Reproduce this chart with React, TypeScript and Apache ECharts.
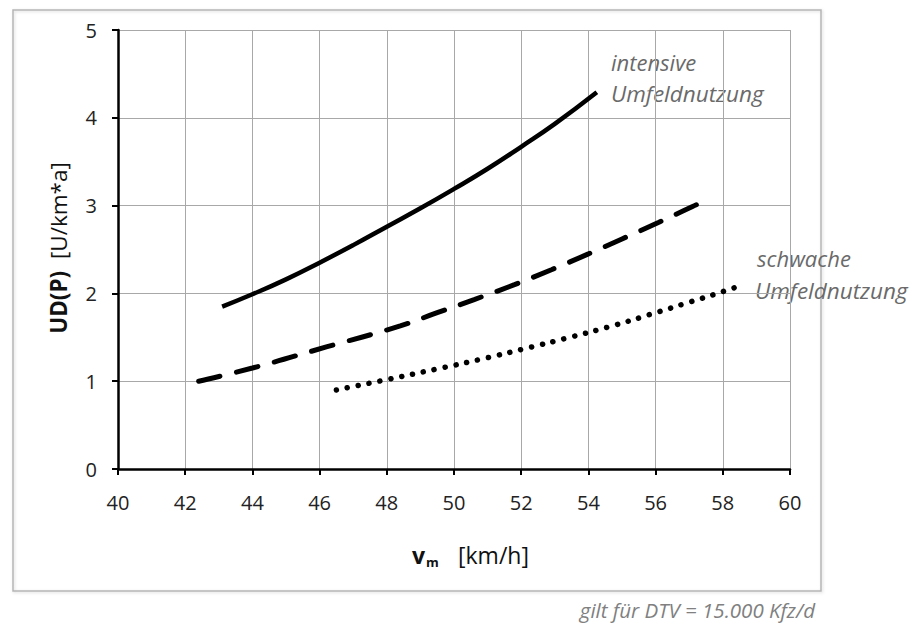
import React, { useEffect, useRef } from "react";
import * as echarts from "echarts";

const xTicks = [40, 42, 44, 46, 48, 50, 52, 54, 56, 58, 60];
const yTicks = [0, 1, 2, 3, 4, 5];

const intensiveX = [43.1, 44, 45, 46, 47, 48, 49, 50, 51, 52, 53, 54.25];
const intensiveY = [1.85, 1.99, 2.16, 2.35, 2.55, 2.76, 2.97, 3.19, 3.42, 3.67, 3.93, 4.29];

const mittelX = [42.4, 44, 46.2, 48.4, 49.5, 50.6, 51.8, 52.9, 54, 55, 56.1, 57.1, 57.4];
const mittelY = [1.0, 1.15, 1.39, 1.63, 1.78, 1.93, 2.1, 2.27, 2.45, 2.62, 2.81, 2.99, 3.04];

const schwachX = [46.5, 47.9, 49.5, 50.8, 52.1, 53.45, 54.8, 56, 57, 58, 58.6];
const schwachY = [0.9, 1.01, 1.14, 1.25, 1.37, 1.5, 1.64, 1.78, 1.9, 2.02, 2.1];

const FONT = "'Open Sans', sans-serif";

function pairs(xs: number[], ys: number[]) {
  return xs.map((x, i) => [x, ys[i]]);
}

export default function App() {
  const ref = useRef<HTMLDivElement>(null);
  useEffect(() => {
    if (!ref.current) return;
    const chart = echarts.init(ref.current, undefined, { renderer: "svg" });
    chart.setOption({
      animation: false,
      backgroundColor: "#ffffff",
      grid: { left: 118, top: 30, width: 672, height: 439, containLabel: false },
      xAxis: {
        type: "value",
        min: xTicks[0],
        max: xTicks[xTicks.length - 1],
        interval: 2,
        axisLine: { show: true, onZero: false, lineStyle: { color: "#000", width: 2.5 } },
        axisTick: { show: true, length: 6, inside: false, lineStyle: { color: "#000", width: 2 } },
        axisLabel: { color: "#222", fontSize: 20, fontFamily: FONT, margin: 23 },
        splitLine: { show: true, lineStyle: { color: "#a8a8a8", width: 1 } },
      },
      yAxis: {
        type: "value",
        min: yTicks[0],
        max: yTicks[yTicks.length - 1],
        interval: 1,
        axisLine: { show: true, onZero: false, lineStyle: { color: "#000", width: 2.5 } },
        axisTick: { show: true, length: 6, inside: false, lineStyle: { color: "#000", width: 2 } },
        axisLabel: { color: "#222", fontSize: 20, fontFamily: FONT, margin: 21 },
        splitLine: { show: true, lineStyle: { color: "#a8a8a8", width: 1 } },
      },
      series: [
        {
          type: "line",
          name: "intensive Umfeldnutzung",
          data: pairs(intensiveX, intensiveY),
          smooth: 0.5,
          symbol: "none",
          lineStyle: { color: "#000", width: 4.5, type: "solid", cap: "butt" },
          z: 5,
        },
        {
          type: "line",
          name: "mittlere Umfeldnutzung",
          data: pairs(mittelX, mittelY),
          smooth: 0.5,
          symbol: "none",
          lineStyle: { color: "#000", width: 5, type: [22, 17], cap: "round" },
          z: 5,
        },
        {
          type: "line",
          name: "schwache Umfeldnutzung",
          data: pairs(schwachX, schwachY),
          smooth: 0.5,
          symbol: "none",
          lineStyle: { color: "#000", width: 5.5, type: [0.1, 11], cap: "round" },
          z: 5,
        },
      ],
      graphic: [
        {
          type: "rect",
          shape: { x: 13, y: 10, width: 808, height: 581 },
          style: { fill: "none", stroke: "#b5b5b5", lineWidth: 1.5, shadowColor: "rgba(0,0,0,0.15)", shadowBlur: 3, shadowOffsetX: 1, shadowOffsetY: 1 },
          z: -10,
          silent: true,
        },
        {
          type: "text",
          x: 58,
          y: 248,
          rotation: Math.PI / 2,
          style: {
            text: "{b|UD(P)}  [U/km*a]",
            fontSize: 22.5,
            fontFamily: FONT,
            fill: "#111",
            align: "center",
            verticalAlign: "middle",
            rich: { b: { fontWeight: "bold", fontSize: 22.5, fontFamily: FONT, fill: "#111" } },
          },
        },
        {
          type: "text",
          x: 412,
          y: 555,
          style: { text: "v", fontSize: 23, fontWeight: "bold", fontFamily: FONT, fill: "#111", align: "left", verticalAlign: "middle" },
        },
        {
          type: "text",
          x: 426,
          y: 562,
          style: { text: "m", fontSize: 13, fontWeight: "bold", fontFamily: FONT, fill: "#111", align: "left", verticalAlign: "middle" },
        },
        {
          type: "text",
          x: 458,
          y: 555,
          style: { text: "[km/h]", fontSize: 23, fontFamily: FONT, fill: "#111", align: "left", verticalAlign: "middle" },
        },
        {
          type: "text",
          x: 611,
          y: 62,
          style: { text: "intensive", fontSize: 22, fontStyle: "italic", fontFamily: FONT, fill: "#6a6a6a", align: "left", verticalAlign: "middle" },
        },
        {
          type: "text",
          x: 611,
          y: 93,
          style: { text: "Umfeldnutzung", fontSize: 22.5, fontStyle: "italic", fontFamily: FONT, fill: "#6a6a6a", align: "left", verticalAlign: "middle" },
        },
        {
          type: "text",
          x: 757,
          y: 258,
          style: { text: "schwache", fontSize: 22, fontStyle: "italic", fontFamily: FONT, fill: "#6a6a6a", align: "left", verticalAlign: "middle" },
        },
        {
          type: "text",
          x: 755,
          y: 290,
          style: { text: "Umfeldnutzung", fontSize: 22.5, fontStyle: "italic", fontFamily: FONT, fill: "#6a6a6a", align: "left", verticalAlign: "middle" },
        },
        {
          type: "text",
          x: 815,
          y: 610,
          style: { text: "gilt für DTV = 15.000 Kfz/d", fontSize: 20.5, fontStyle: "italic", fontFamily: FONT, fill: "#808080", align: "right", verticalAlign: "middle" },
        },
      ],
    });
    return () => chart.dispose();
  }, []);
  return (
    <div
      ref={ref}
      style={{ position: "absolute", left: 0, top: 0, width: 919, height: 624, background: "#fff" }}
    />
  );
}
